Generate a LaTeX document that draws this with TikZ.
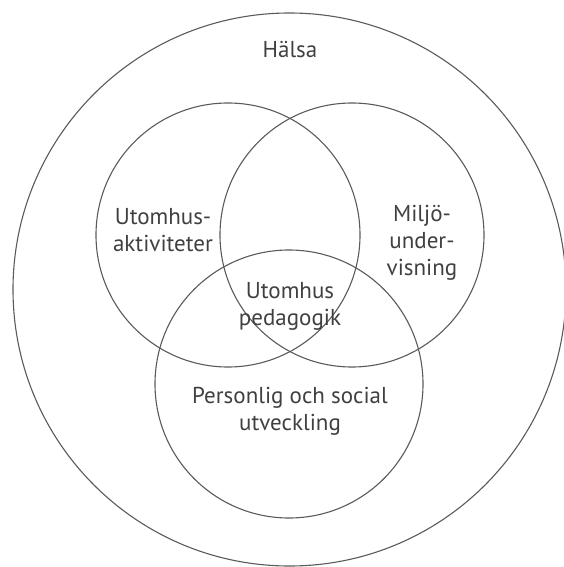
\documentclass[tikz,border=0pt]{standalone}
\usepackage{fontspec}
\setmainfont{PT Sans}
\usetikzlibrary{positioning}
\definecolor{cLine}{HTML}{5A5A5A}
\definecolor{cText}{HTML}{404040}
\tikzset{
  ring/.style     ={draw=cLine, circle, line width=0.55pt, inner sep=0pt},
  areatext/.style ={align=center, text=cText, inner sep=0pt,
                    font=\fontsize{11.5}{13.5}\selectfont},
}

\begin{document}
\begin{tikzpicture}[x=0.5pt, y=-0.5pt]
  \useasboundingbox (0,0) rectangle (563,567);

  % ============================================================
  % CIRCLES
  % ============================================================
  \node[ring, minimum size=276.5pt] (halsa)   at (289.5,289.5) {};
  \node[ring, minimum size=132pt]   (aktiv)   at (228,235) {};
  \node[ring, minimum size=132pt]   (miljo)   at (352,235) {};
  \node[ring, minimum size=134pt]   (person)  at (289,384) {};

  % ============================================================
  % TEXTS
  % ============================================================
  \node[areatext] (thalsa)  at (290,50)  {Hälsa};
  \node[areatext] (taktiv)  at (163,230) {Utomhus-\\aktiviteter};
  \node[areatext] (tmiljo)  at (422,243) {Miljö-\\under-\\visning};
  \node[areatext] (tpedag)  at (290,306) {Utomhus\\pedagogik};
  \node[areatext] (tperson) at (290,411) {Personlig och social\\utveckling};

\end{tikzpicture}
\end{document}
